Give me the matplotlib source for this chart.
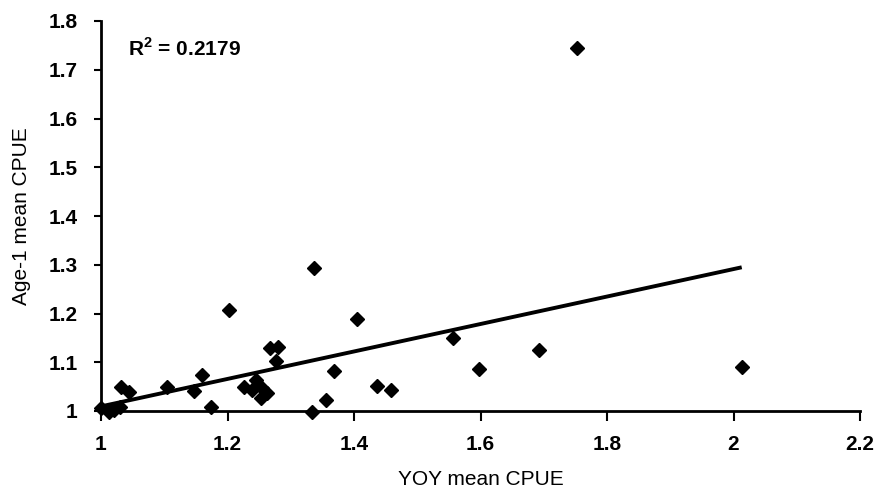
import numpy as np
from matplotlib import pyplot as plt

# YOY mean CPUE vs Age-1 mean CPUE
yoy = [1.000, 1.012, 1.020, 1.030, 1.031, 1.044, 1.104, 1.147, 1.160, 1.174,
       1.203, 1.226, 1.238, 1.245, 1.253, 1.255, 1.263, 1.267, 1.277, 1.280,
       1.334, 1.337, 1.355, 1.369, 1.405, 1.437, 1.458, 1.557, 1.597, 1.692,
       1.752, 2.013]
age1 = [1.007, 0.998, 1.003, 1.008, 1.049, 1.039, 1.049, 1.041, 1.074, 1.009,
        1.207, 1.050, 1.043, 1.064, 1.027, 1.047, 1.037, 1.129, 1.103, 1.131,
        0.998, 1.293, 1.023, 1.083, 1.188, 1.051, 1.043, 1.149, 1.086, 1.125,
        1.744, 1.090]
r2_label = r'R$^\mathregular{2}$ = 0.2179'

xticks = [1, 1.2, 1.4, 1.6, 1.8, 2, 2.2]
xticklabels = ['1', '1.2', '1.4', '1.6', '1.8', '2', '2.2']
yticks = [1, 1.1, 1.2, 1.3, 1.4, 1.5, 1.6, 1.7, 1.8]
yticklabels = ['1', '1.1', '1.2', '1.3', '1.4', '1.5', '1.6', '1.7', '1.8']

plt.rcParams['font.family'] = ['Liberation Sans', 'DejaVu Sans']

fig = plt.figure(figsize=(8.81, 5), dpi=100)
ax = fig.add_axes([101/881, 89/500, 759/881, 390/500])

ax.plot(yoy, age1, 'D', color='black', ms=7.5, clip_on=False, zorder=3)

# linear trend line
slope, icpt = np.polyfit(yoy, age1, 1)
xl = np.array([min(yoy), max(yoy)])
ax.plot(xl, slope*xl + icpt, color='black', lw=2.8, solid_capstyle='butt')

ax.set_xlim(1, 2.2)
ax.set_ylim(1, 1.8)
ax.set_xticks(xticks)
ax.set_xticklabels(xticklabels, fontsize=15, fontweight='bold')
ax.set_yticks(yticks)
ax.set_yticklabels(yticklabels, fontsize=15, fontweight='bold')
ax.tick_params(axis='x', direction='out', length=7, width=1.5, pad=10)
ax.tick_params(axis='y', direction='out', length=5, width=1.5, pad=12)

for s in ['top', 'right']:
    ax.spines[s].set_visible(False)
for s in ['left', 'bottom']:
    ax.spines[s].set_linewidth(2)

ax.set_xlabel('YOY mean CPUE', fontsize=15, labelpad=12)
ax.set_ylabel('Age-1 mean CPUE', fontsize=15, labelpad=12)

ax.text(0.035, 0.93, r2_label, transform=ax.transAxes, fontsize=15,
        fontweight='bold', va='center')

fig.savefig('out.png', dpi=100)
